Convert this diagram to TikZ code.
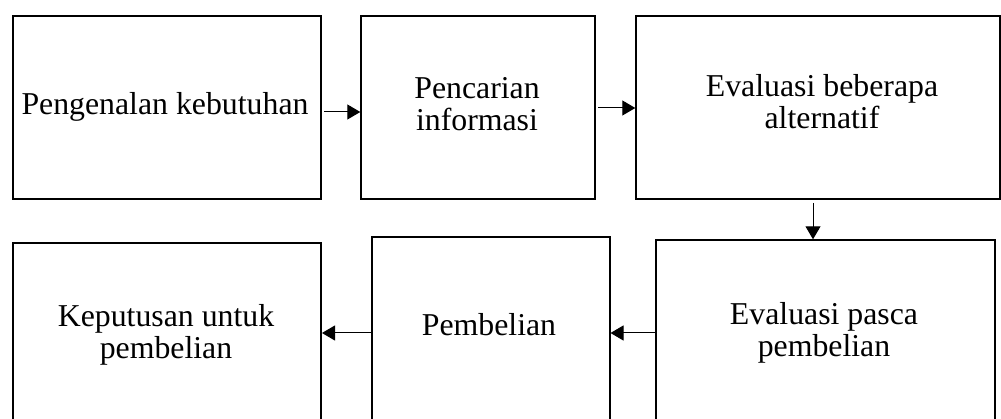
\documentclass[tikz,border=0pt]{standalone}
\usepackage{fontspec}
\setmainfont{Liberation Serif}
\usetikzlibrary{arrows.meta}
\begin{document}
\begin{tikzpicture}[x=1pt,y=-1pt,
  box/.style={draw, line width=2pt, rectangle, inner sep=0pt, anchor=north west},
  lbl/.style={font=\fontsize{31.8}{32}\selectfont, align=center, anchor=base, inner sep=0pt},
  arr/.style={line width=1pt, -{Triangle[length=13pt,width=15pt]}}]
\useasboundingbox (0,0) rectangle (1001,419);
% top row
\node[box, minimum width=308pt, minimum height=183pt] (b1) at (12,15) {};
\node[box, minimum width=234pt, minimum height=183pt] (b2) at (360.3,15) {};
\node[box, minimum width=364pt, minimum height=183pt] (b3) at (635.3,15) {};
% bottom row (cut off by the lower margin)
\node[box, minimum width=237.5pt, minimum height=220pt] (b5) at (371,236) {};
\node[box, minimum width=308pt, minimum height=220pt] (b4) at (12,242) {};
\node[box, minimum width=339pt, minimum height=220pt] (b6) at (655.3,239.3) {};
% texts (base = baseline of the last line)
\node[lbl] (t1) at (165,115) {Pengenalan kebutuhan};
\node[lbl] (t2) at (477,131) {Pencarian\\informasi};
\node[lbl] (t3) at (822,129) {Evaluasi beberapa\\alternatif};
\node[lbl] (t4) at (166,359) {Keputusan untuk\\pembelian};
\node[lbl] (t5) at (489,336) {Pembelian};
\node[lbl] (t6) at (824,356) {Evaluasi pasca\\pembelian};
% connector helper coordinates
\coordinate (ya) at (0,112);
\coordinate (yb) at (0,108);
\coordinate (xd) at (813,0);
\coordinate (yc) at (0,333);
% connectors
\draw[arr] ([xshift=2pt]b1.east |- ya) -- (b2.west |- ya);
\draw[arr] ([xshift=2pt]b2.east |- yb) -- (b3.west |- yb);
\draw[arr] ([yshift=-3pt]xd |- b3.south) -- (xd |- b6.north);
\draw[arr] (b6.west |- yc) -- (b5.east |- yc);
\draw[arr] (b5.west |- yc) -- (b4.east |- yc);
\end{tikzpicture}
\end{document}
